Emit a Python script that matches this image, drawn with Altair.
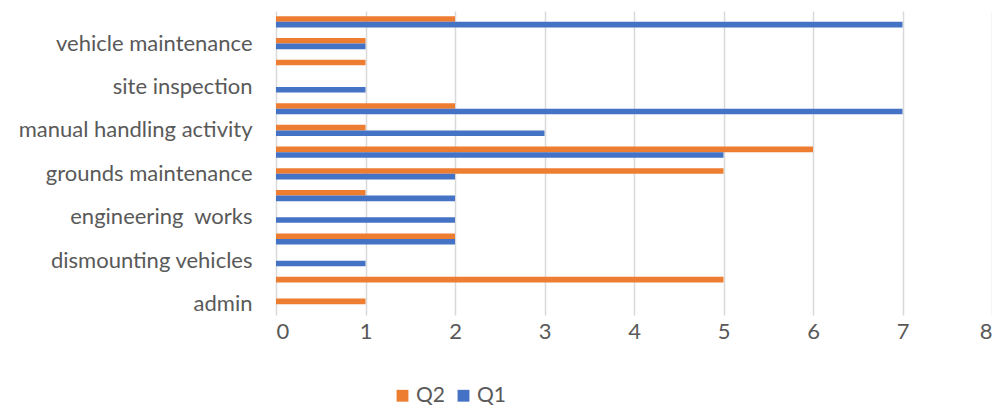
import altair as alt
import pandas as pd

# categories listed top to bottom (Excel shows every other label only)
categories = [
    "welding", "vehicle maintenance", "vehicle cleaning", "site inspection",
    "plant operation", "manual handling activity\u00a0", "lifting operations",
    "grounds maintenance", "general duties", "engineering\u00a0 works",
    "driving", "dismounting vehicles", "cleaning", "admin\u00a0",
]
shown_labels = [categories[i] for i in range(1, 14, 2)]
q1 = [7, 1, 0, 1, 7, 3, 5, 2, 2, 2, 2, 1, 0, 0]
q2 = [2, 1, 1, 0, 2, 1, 6, 5, 1, 0, 2, 0, 5, 1]
series = ["Q2", "Q1"]
colors = ["#ED7D31", "#4472C4"]

rows = []
for c, a, b in zip(categories, q2, q1):
    rows.append({"cat": c, "series": "Q2", "value": a})
    rows.append({"cat": c, "series": "Q1", "value": b})
df = pd.DataFrame(rows)

font = "Lato"
fs = 22
chart = alt.Chart(df).mark_bar().encode(
    y=alt.Y("cat:N", sort=categories, title=None,
            scale=alt.Scale(paddingInner=0.0, paddingOuter=0.0),
            axis=alt.Axis(values=shown_labels, ticks=False, domain=False,
                          labelFontSize=fs, labelColor="#595959", labelFont=font,
                          labelPadding=24, grid=False, labelLimit=300)),
    yOffset=alt.YOffset("series:N", sort=series,
                        scale=alt.Scale(paddingInner=0.0, paddingOuter=0.95)),
    x=alt.X("value:Q", title=None,
            scale=alt.Scale(domain=[0, 8], nice=False),
            axis=alt.Axis(values=list(range(9)), ticks=False, domain=False,
                          grid=True, gridColor="#d9d9d9", gridWidth=1.5,
                          labelFontSize=fs, labelColor="#595959", labelFont=font,
                          labelPadding=6, format="d")),
    color=alt.Color("series:N", sort=series,
                    scale=alt.Scale(domain=series, range=colors),
                    legend=alt.Legend(title=None, orient="none", direction="horizontal",
                                      legendX=116, legendY=374, symbolType="square",
                                      symbolSize=140, symbolStrokeWidth=0,
                                      labelFontSize=21, labelColor="#595959",
                                      labelFont=font, columnPadding=8,
                                      labelOffset=3)),
).properties(
    width=716, height=304,
    autosize=alt.AutoSizeParams(type="none"),
    padding={"left": 268, "top": 3, "right": 0, "bottom": 90},
).configure_view(stroke=None)

chart.save("out.html", embed_options={"renderer": "svg", "actions": False})
